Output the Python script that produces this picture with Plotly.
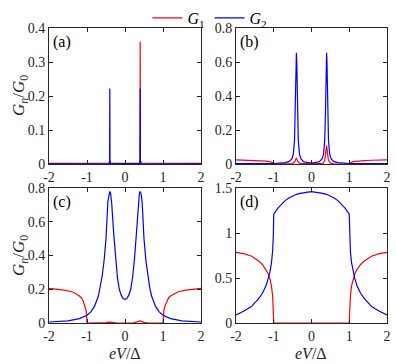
import plotly.graph_objects as go
from plotly.subplots import make_subplots

# panel (a)
a_red_x = [-2, -1, 0, 0.38, 0.395, 0.4, 0.405, 0.42, 1, 2]
a_red_y = [0.002, 0.002, 0.002, 0.003, 0.01, 0.36, 0.01, 0.003, 0.002, 0.002]
a_blue_x = [-2, -0.42, -0.405, -0.4, -0.395, -0.38, 0, 0.38, 0.395, 0.4, 0.405, 0.42, 2]
a_blue_y = [0.0005, 0.001, 0.01, 0.222, 0.01, 0.001, 0.0005, 0.001, 0.01, 0.222, 0.01, 0.001, 0.0005]

# panel (b)
b_red_x = [-2, -1.8, -1.6, -1.4, -1.2, -1.1, -1.03, -1.0, -0.6, -0.5, -0.45, -0.42, -0.4, -0.38, -0.35,
           -0.3, 0.3, 0.35, 0.38, 0.4, 0.42, 0.45, 0.5, 0.6, 1.0, 1.03, 1.1, 1.2, 1.4, 1.6, 1.8, 2]
b_red_y = [0.024, 0.023, 0.022, 0.02, 0.017, 0.014, 0.008, 0.0, 0.0, 0.003, 0.01, 0.025, 0.036, 0.025, 0.01,
           0.003, 0.003, 0.02, 0.07, 0.108, 0.07, 0.02, 0.005, 0.0, 0.0, 0.008, 0.014, 0.017, 0.02, 0.022, 0.023, 0.024]
b_blue_x = [-2, -1, -0.7, -0.6, -0.52, -0.48, -0.45, -0.43, -0.42, -0.41, -0.4, -0.39, -0.38, -0.37, -0.35,
            -0.32, -0.28, -0.2, 0, 0.2, 0.28, 0.32, 0.35, 0.37, 0.38, 0.39, 0.4, 0.41, 0.42, 0.43, 0.45,
            0.48, 0.52, 0.6, 0.7, 1, 2]
b_blue_y = [0.002, 0.003, 0.008, 0.014, 0.03, 0.06, 0.14, 0.3, 0.45, 0.6, 0.655, 0.6, 0.45, 0.3, 0.14,
            0.06, 0.03, 0.012, 0.006, 0.012, 0.03, 0.06, 0.14, 0.3, 0.45, 0.6, 0.655, 0.6, 0.45, 0.3, 0.14,
            0.06, 0.03, 0.014, 0.008, 0.003, 0.002]

# panel (c)
c_red_x = [-2, -1.8, -1.6, -1.4, -1.3, -1.2, -1.15, -1.1, -1.05, -1.02, -1.0, -0.6, -0.5, -0.4, -0.3, -0.2,
           0.2, 0.3, 0.4, 0.5, 0.6, 1.0, 1.02, 1.05, 1.1, 1.15, 1.2, 1.3, 1.4, 1.6, 1.8, 2]
c_red_y = [0.205, 0.2, 0.195, 0.185, 0.175, 0.16, 0.15, 0.13, 0.1, 0.07, 0.0, 0.0, 0.002, 0.005, 0.002, 0.0,
           0.0, 0.004, 0.012, 0.004, 0.0, 0.0, 0.07, 0.1, 0.13, 0.15, 0.16, 0.175, 0.185, 0.195, 0.2, 0.205]
c_blue_x = [-2, -1.5, -1.2, -1.0, -0.9, -0.8, -0.7, -0.65, -0.6, -0.55, -0.5, -0.45, -0.42, -0.4, -0.38,
            -0.35, -0.3, -0.25, -0.2, -0.15, -0.1, -0.05, 0, 0.05, 0.1, 0.15, 0.2, 0.25, 0.3, 0.35, 0.38,
            0.4, 0.42, 0.45, 0.5, 0.55, 0.6, 0.65, 0.7, 0.8, 0.9, 1.0, 1.2, 1.5, 2]
c_blue_y = [0.006, 0.013, 0.026, 0.046, 0.066, 0.1, 0.16, 0.21, 0.28, 0.37, 0.5, 0.72, 0.77, 0.78, 0.77,
            0.71, 0.54, 0.38, 0.27, 0.2, 0.165, 0.145, 0.14, 0.145, 0.165, 0.2, 0.27, 0.38, 0.54, 0.71, 0.77,
            0.78, 0.77, 0.72, 0.5, 0.37, 0.28, 0.21, 0.16, 0.1, 0.066, 0.046, 0.026, 0.013, 0.006]

# panel (d)
d_red_x = [-2, -1.8, -1.6, -1.4, -1.3, -1.2, -1.15, -1.1, -1.06, -1.03, -1.01, -1.0,
           1.0, 1.01, 1.03, 1.06, 1.1, 1.15, 1.2, 1.3, 1.4, 1.6, 1.8, 2]
d_red_y = [0.785, 0.77, 0.745, 0.69, 0.65, 0.59, 0.55, 0.49, 0.41, 0.3, 0.15, 0.0,
           0.0, 0.15, 0.3, 0.41, 0.49, 0.55, 0.59, 0.65, 0.69, 0.745, 0.77, 0.785]
d_blue_x = [-2, -1.8, -1.6, -1.4, -1.3, -1.2, -1.15, -1.1, -1.06, -1.03, -1.01, -1.0, -0.9, -0.8, -0.7,
            -0.6, -0.5, -0.4, -0.3, -0.2, -0.1, 0, 0.1, 0.2, 0.3, 0.4, 0.5, 0.6, 0.7, 0.8, 0.9, 1.0,
            1.01, 1.03, 1.06, 1.1, 1.15, 1.2, 1.3, 1.4, 1.6, 1.8, 2]
d_blue_y = [0.09, 0.13, 0.18, 0.27, 0.33, 0.42, 0.49, 0.57, 0.67, 0.8, 0.98, 1.21, 1.27, 1.32, 1.36,
            1.39, 1.41, 1.43, 1.44, 1.45, 1.455, 1.46, 1.455, 1.45, 1.44, 1.43, 1.41, 1.39, 1.36, 1.32, 1.27, 1.21,
            0.98, 0.8, 0.67, 0.57, 0.49, 0.42, 0.33, 0.27, 0.18, 0.13, 0.09]

x_ticks = [-2, -1, 0, 1, 2]
x_tick_labels = ["-2", "-1", "0", "1", "2"]
a_yticks = [0, 0.1, 0.2, 0.3, 0.4]
a_ytick_labels = ["0", "0.1", "0.2", "0.3", "0.4"]
bc_yticks = [0, 0.2, 0.4, 0.6, 0.8]
bc_ytick_labels = ["0", "0.2", "0.4", "0.6", "0.8"]
d_yticks = [0, 0.5, 1, 1.5]
d_ytick_labels = ["0", "0.5", "1", "1.5"]

panels = [
    ("(a)", a_red_x, a_red_y, a_blue_x, a_blue_y, [0, 0.4], a_yticks, a_ytick_labels),
    ("(b)", b_red_x, b_red_y, b_blue_x, b_blue_y, [0, 0.8], bc_yticks, bc_ytick_labels),
    ("(c)", c_red_x, c_red_y, c_blue_x, c_blue_y, [0, 0.8], bc_yticks, bc_ytick_labels),
    ("(d)", d_red_x, d_red_y, d_blue_x, d_blue_y, [0, 1.5], d_yticks, d_ytick_labels),
]

W, H = 396, 364
FONT = "Liberation Serif"
INK = "#262626"

fig = make_subplots(rows=2, cols=2)

x_domains = [[49 / W, 201 / W], [236 / W, 387 / W]]
y_domains = [[1 - 164 / H, 1 - 28 / H], [1 - 323 / H, 1 - 188 / H]]

for i, (label, rx, ry, bx, by, yr, yt, ytl) in enumerate(panels):
    row, col = i // 2 + 1, i % 2 + 1
    fig.add_trace(go.Scatter(x=rx, y=ry, mode="lines", line=dict(color="#ff0000", width=1.2),
                             name="<i>G</i><sub>1</sub>", showlegend=(i == 0)), row=row, col=col)
    fig.add_trace(go.Scatter(x=bx, y=by, mode="lines", line=dict(color="#0000ff", width=1.2),
                             name="<i>G</i><sub>2</sub>", showlegend=(i == 0)), row=row, col=col)
    fig.update_xaxes(range=[-2, 2], tickvals=x_ticks, ticktext=x_tick_labels,
                     domain=x_domains[col - 1], row=row, col=col)
    fig.update_yaxes(range=yr, tickvals=yt, ticktext=ytl,
                     domain=y_domains[row - 1], row=row, col=col)
    ax = "" if i == 0 else str(i + 1)
    fig.add_annotation(x=-1.95, y=yr[1] * 0.98, xref="x" + ax, yref="y" + ax, text=label,
                       showarrow=False, xanchor="left", yanchor="top",
                       font=dict(family=FONT, size=16, color="black"))

axis_style = dict(showgrid=False, zeroline=False, showline=True, linecolor=INK, linewidth=0.8,
                  mirror="ticks", ticks="inside", ticklen=4, tickcolor=INK, automargin=False,
                  tickfont=dict(family=FONT, size=14, color=INK))
fig.update_xaxes(**axis_style)
fig.update_yaxes(**axis_style)

ylab = "<i>G<sub>n</sub></i>/<i>G</i><sub>0</sub>"
for yc in [96, 256]:
    fig.add_annotation(x=20 / W, y=1 - yc / H, xref="paper", yref="paper", text=ylab,
                       xanchor="center", yanchor="middle",
                       textangle=-90, showarrow=False, font=dict(family=FONT, size=17, color=INK))
for xc in [125, 311]:
    fig.add_annotation(x=xc / W, y=1 - 353 / H, xref="paper", yref="paper", text="<i>eV</i>/Δ",
                       xanchor="center", yanchor="middle",
                       showarrow=False, font=dict(family=FONT, size=16, color=INK))

fig.update_layout(
    width=W, height=H,
    margin=dict(l=0, r=0, t=0, b=0),
    plot_bgcolor="white", paper_bgcolor="white",
    font=dict(family=FONT),
    legend=dict(orientation="h", x=0.53, xanchor="center", y=1 - 1 / H, yanchor="top",
                font=dict(family=FONT, size=16, color="black"), itemwidth=30,
                bgcolor="rgba(0,0,0,0)"),
)

fig.write_html("out.html", config={"displayModeBar": False},
               post_script="document.body.style.margin='0';")
